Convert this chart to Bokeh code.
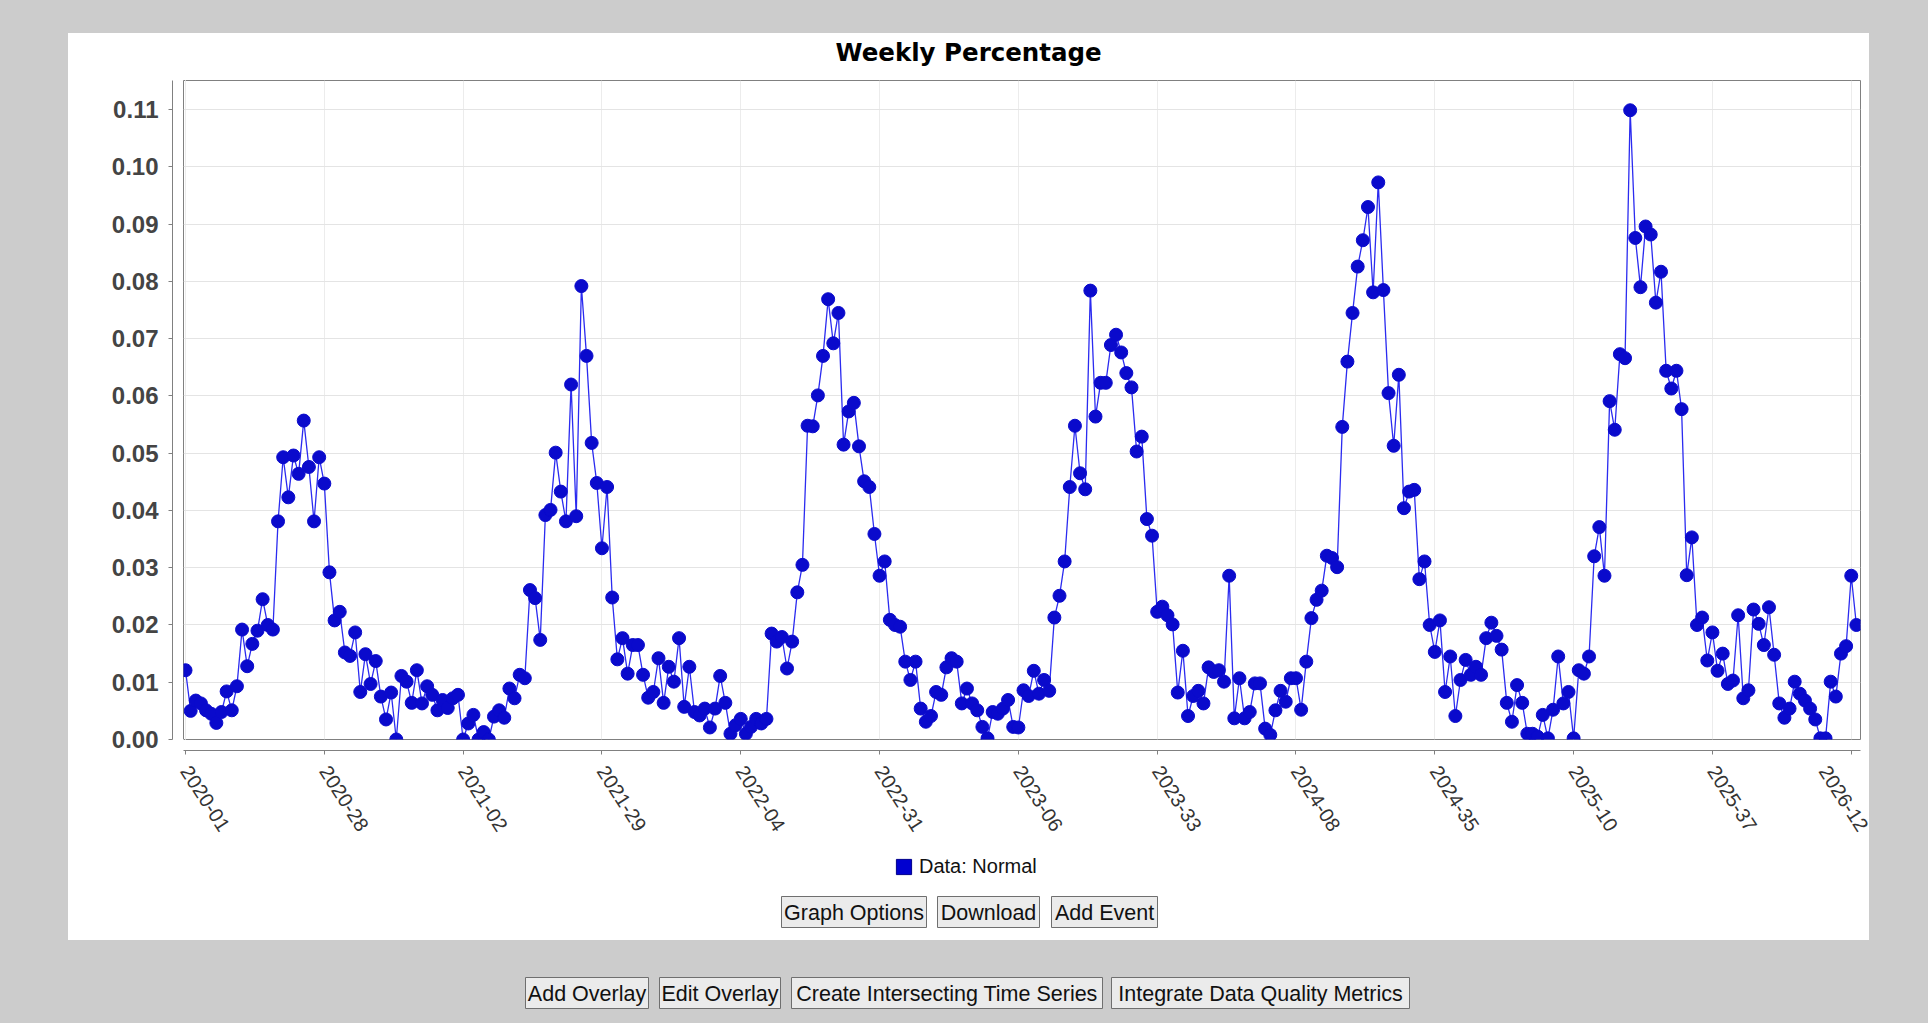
import math
import datetime as dt
from bokeh.plotting import figure
from bokeh.models import (Range1d, LinearAxis, FixedTicker, PrintfTickFormatter, Grid,
                          ColumnDataSource, Legend, LegendItem, GlobalInlineStyleSheet)
from bokeh.layouts import column
from bokeh.embed import file_html
from bokeh.resources import INLINE
from bokeh.core.properties import value

# ---------------- data ----------------
title_text = "Weekly Percentage"
series_name = "Data: Normal"
first_year, first_week = 2020, 1
tick_step = 27
y_ticks = [0.00, 0.01, 0.02, 0.03, 0.04, 0.05, 0.06, 0.07, 0.08, 0.09, 0.10, 0.11]

values = [
    0.0121, 0.0050, 0.0068, 0.0063, 0.0051, 0.0045, 0.0029, 0.0048, 0.0084, 0.0051,
    0.0093, 0.0192, 0.0128, 0.0167, 0.0190, 0.0245, 0.0200, 0.0192, 0.0381, 0.0493,
    0.0423, 0.0496, 0.0464, 0.0557, 0.0476, 0.0381, 0.0493, 0.0447, 0.0292, 0.0208,
    0.0223, 0.0152, 0.0146, 0.0187, 0.0083, 0.0149, 0.0097, 0.0137, 0.0075, 0.0035,
    0.0082, 0.0000, 0.0111, 0.0101, 0.0064, 0.0121, 0.0063, 0.0093, 0.0078, 0.0051,
    0.0069, 0.0055, 0.0072, 0.0078, 0.0000, 0.0028, 0.0043, 0.0000, 0.0013, 0.0000,
    0.0040, 0.0051, 0.0038, 0.0089, 0.0072, 0.0113, 0.0107, 0.0261, 0.0247, 0.0174,
    0.0392, 0.0401, 0.0501, 0.0433, 0.0381, 0.0620, 0.0390, 0.0792, 0.0670, 0.0518,
    0.0448, 0.0334, 0.0441, 0.0248, 0.0140, 0.0177, 0.0115, 0.0165, 0.0165, 0.0113,
    0.0073, 0.0083, 0.0142, 0.0064, 0.0127, 0.0101, 0.0177, 0.0057, 0.0127, 0.0048,
    0.0042, 0.0054, 0.0021, 0.0054, 0.0111, 0.0064, 0.0010, 0.0025, 0.0036, 0.0010,
    0.0022, 0.0036, 0.0028, 0.0036, 0.0185, 0.0171, 0.0179, 0.0124, 0.0171, 0.0257,
    0.0305, 0.0548, 0.0547, 0.0601, 0.0670, 0.0769, 0.0692, 0.0745, 0.0515, 0.0573,
    0.0588, 0.0512, 0.0451, 0.0441, 0.0359, 0.0286, 0.0311, 0.0209, 0.0200, 0.0197,
    0.0136, 0.0104, 0.0136, 0.0054, 0.0031, 0.0041, 0.0083, 0.0078, 0.0126, 0.0142,
    0.0136, 0.0063, 0.0089, 0.0063, 0.0051, 0.0022, 0.0002, 0.0048, 0.0045, 0.0054,
    0.0069, 0.0022, 0.0021, 0.0086, 0.0076, 0.0120, 0.0080, 0.0104, 0.0085, 0.0213,
    0.0251, 0.0311, 0.0441, 0.0548, 0.0465, 0.0437, 0.0784, 0.0564, 0.0623, 0.0623,
    0.0689, 0.0707, 0.0676, 0.0640, 0.0615, 0.0503, 0.0529, 0.0385, 0.0356, 0.0223,
    0.0232, 0.0217, 0.0201, 0.0082, 0.0155, 0.0041, 0.0076, 0.0085, 0.0063, 0.0126,
    0.0118, 0.0121, 0.0101, 0.0286, 0.0037, 0.0107, 0.0037, 0.0048, 0.0098, 0.0098,
    0.0019, 0.0008, 0.0051, 0.0085, 0.0066, 0.0107, 0.0107, 0.0052, 0.0136, 0.0212,
    0.0244, 0.0260, 0.0321, 0.0317, 0.0301, 0.0546, 0.0660, 0.0745, 0.0826, 0.0872,
    0.0930, 0.0781, 0.0973, 0.0785, 0.0605, 0.0513, 0.0637, 0.0404, 0.0433, 0.0436,
    0.0280, 0.0311, 0.0200, 0.0153, 0.0208, 0.0083, 0.0145, 0.0041, 0.0104, 0.0139,
    0.0113, 0.0127, 0.0113, 0.0177, 0.0204, 0.0181, 0.0157, 0.0064, 0.0031, 0.0095,
    0.0064, 0.0010, 0.0010, 0.0005, 0.0043, 0.0002, 0.0052, 0.0145, 0.0063, 0.0083,
    0.0002, 0.0121, 0.0115, 0.0145, 0.0320, 0.0371, 0.0286, 0.0591, 0.0541, 0.0673,
    0.0666, 0.1099, 0.0876, 0.0790, 0.0896, 0.0882, 0.0763, 0.0817, 0.0644, 0.0613,
    0.0644, 0.0577, 0.0287, 0.0353, 0.0200, 0.0213, 0.0138, 0.0187, 0.0120, 0.0150,
    0.0097, 0.0103, 0.0217, 0.0072, 0.0086, 0.0227, 0.0202, 0.0165, 0.0231, 0.0148,
    0.0063, 0.0038, 0.0054, 0.0101, 0.0080, 0.0068, 0.0054, 0.0035, 0.0002, 0.0002,
    0.0101, 0.0075, 0.0150, 0.0163, 0.0286, 0.0200,
]

panel_buttons = ["Graph Options", "Download", "Add Event"]
bottom_buttons = ["Add Overlay", "Edit Overlay", "Create Intersecting Time Series",
                  "Integrate Data Quality Metrics"]

# ISO week labels (categories)
start = dt.date.fromisocalendar(first_year, first_week, 1)
weeks = []
for k in range(len(values)):
    yy, ww, _ = (start + dt.timedelta(weeks=k)).isocalendar()
    weeks.append(f"{yy}-{ww:02d}")
x_index = list(range(len(values)))
tick_idx = list(range(0, len(values), tick_step))

# ---------------- styles ----------------
GRAY_BG = "#cccccc"
AXIS_GRAY = "#808080"
LINE_BLUE = "#2b2bf0"
MARK_BLUE = "#0a0acc"
PANEL_W = 1801
PANEL_LEFT = 68


def spacer_axis(size, tick_value):
    """Invisible axis used only to leave a gap next to the plot area."""
    return LinearAxis(ticker=FixedTicker(ticks=[tick_value]), axis_line_color=None,
                      major_tick_line_color="white", major_tick_out=size, major_tick_in=0,
                      minor_tick_out=0, minor_tick_in=0, major_label_standoff=0,
                      major_label_text_font_size="1px", major_label_text_alpha=0)


# ---------------- main chart ----------------
p = figure(width=PANEL_W, height=819, output_backend="svg", toolbar_location=None,
           x_range=Range1d(-0.39, 325.8), y_range=Range1d(0, 0.1151),
           x_axis_type=None, y_axis_type=None,
           min_border_left=115, min_border_right=9, min_border_top=47, min_border_bottom=113,
           background_fill_color="white", border_fill_color="white",
           outline_line_color=AXIS_GRAY, outline_line_width=1,
           margin=(33, 0, 0, PANEL_LEFT), styles={"background-color": "white"})

p.title.text = title_text
p.title.text_font = "DejaVu Sans"
p.title.text_font_style = "bold"
p.title.text_font_size = "24.5px"
p.title.text_color = "#000000"
p.title.align = "left"
p.title.offset = 652
p.title.standoff = 2

p.add_layout(spacer_axis(13, 0), "above")
p.add_layout(spacer_axis(11, 0), "below")
p.add_layout(spacer_axis(11, 0.0), "left")

xaxis = LinearAxis(ticker=FixedTicker(ticks=tick_idx),
                   major_label_overrides={i: weeks[i] for i in tick_idx},
                   axis_line_color=AXIS_GRAY, major_tick_line_color=AXIS_GRAY,
                   major_tick_out=4, major_tick_in=0, minor_tick_out=0, minor_tick_in=0,
                   major_label_standoff=13, major_label_orientation=-1.0,
                   major_label_text_font="Liberation Sans", major_label_text_font_size="20px",
                   major_label_text_color="#333333")
p.add_layout(xaxis, "below")

yaxis = LinearAxis(ticker=FixedTicker(ticks=y_ticks),
                   formatter=PrintfTickFormatter(format="%.2f"),
                   axis_line_color=AXIS_GRAY, major_tick_line_color=AXIS_GRAY,
                   major_tick_out=4, major_tick_in=0, minor_tick_out=0, minor_tick_in=0,
                   major_label_standoff=10,
                   major_label_text_font="Liberation Sans", major_label_text_font_style="bold",
                   major_label_text_font_size="24px", major_label_text_color="#444444")
p.add_layout(yaxis, "left")

p.add_layout(Grid(dimension=0, ticker=xaxis.ticker, grid_line_color="#ececec"), "center")
p.add_layout(Grid(dimension=1, ticker=yaxis.ticker, grid_line_color="#e4e4e4"), "center")

src = ColumnDataSource(dict(x=x_index, y=values, week=weeks))
p.line("x", "y", source=src, line_color=LINE_BLUE, line_width=1.3)
p.scatter("x", "y", source=src, marker="circle", size=13,
          fill_color=MARK_BLUE, line_color=MARK_BLUE)

# ---------------- legend + panel buttons (white strip) ----------------
# frames of stacked figures are aligned, so this strip's frame spans page x 183..1860
p3 = figure(width=PANEL_W, height=88, output_backend="svg", toolbar_location=None,
            x_range=Range1d(183, 1860), y_range=Range1d(940, 852),
            x_axis_type=None, y_axis_type=None, min_border=0,
            outline_line_color=None, background_fill_color="white",
            border_fill_color="white", margin=(0, 0, 0, PANEL_LEFT),
            styles={"background-color": "white"})

# legend swatch source: a single placeholder box kept outside the visible strip
legend_src = ColumnDataSource(dict(left=[0], right=[1], top=[0], bottom=[1]))
swatch = p3.quad(left="left", right="right", top="top", bottom="bottom", source=legend_src,
                 fill_color="#0000d0", line_color="#00008b")
legend = Legend(items=[LegendItem(label=series_name, renderers=[swatch])],
                location=(711, 62), orientation="horizontal",
                glyph_width=19, glyph_height=19, label_standoff=6,
                padding=0, margin=0, spacing=0,
                border_line_color=None, background_fill_alpha=0,
                label_text_font="Liberation Sans", label_text_font_size="20px",
                label_text_color="#111111")
p3.add_layout(legend)

pb_left = [781, 937, 1051]
pb_right = [926, 1039, 1157]
pb_cx = [(a + b) / 2 for a, b in zip(pb_left, pb_right)]
pb_w = [b - a for a, b in zip(pb_left, pb_right)]
p3.rect(x=pb_cx, y=[911.5] * 3, width=pb_w, height=31,
        fill_color="#ebebeb", line_color="#6f6f6f", line_width=1)
p3.text(x=pb_cx, y=[912] * 3, text=panel_buttons, text_align="center",
        text_baseline="middle", text_font=value("Liberation Sans"),
        text_font_size="21.5px", text_color="#111111")

# ---------------- bottom gray strip with buttons ----------------
p2 = figure(width=PANEL_W, height=75, output_backend="svg", toolbar_location=None,
            x_range=Range1d(183, 1860), y_range=Range1d(1015, 940),
            x_axis_type=None, y_axis_type=None, min_border=0,
            outline_line_color=None, background_fill_color=GRAY_BG,
            border_fill_color=GRAY_BG, margin=(0, 0, 0, PANEL_LEFT),
            styles={"background-color": GRAY_BG})

bb_left = [525, 659, 791, 1111]
bb_right = [648, 780, 1102, 1409]
bb_cx = [(a + b) / 2 for a, b in zip(bb_left, bb_right)]
bb_w = [b - a for a, b in zip(bb_left, bb_right)]
p2.rect(x=bb_cx, y=[992.5] * 4, width=bb_w, height=31,
        fill_color="#ebebeb", line_color="#6f6f6f", line_width=1)
p2.text(x=bb_cx, y=[993] * 4, text=bottom_buttons, text_align="center",
        text_baseline="middle", text_font=value("Liberation Sans"),
        text_font_size="21.5px", text_color="#111111")

root = column(p, p3, p2, spacing=0, styles={"background-color": GRAY_BG},
              stylesheets=[GlobalInlineStyleSheet(css="html, body { background-color: #cccccc; }")])

open("out.html", "w").write(file_html(root, INLINE, title=title_text))
